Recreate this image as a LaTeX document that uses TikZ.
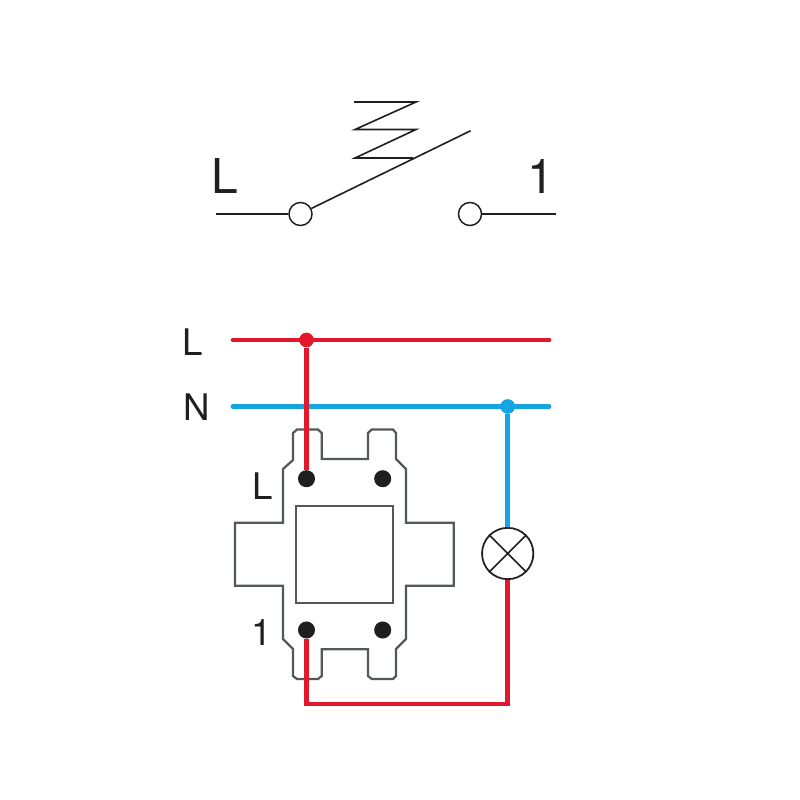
\documentclass[tikz,border=0pt]{standalone}
\usepackage{fontspec}
\setmainfont{TeX Gyre Heros}
\definecolor{wirered}{HTML}{E2192C}
\definecolor{wireblue}{HTML}{16A5E3}
\definecolor{board}{HTML}{55585A}
\definecolor{ink}{HTML}{1F1F21}
\tikzset{
  thinline/.style={draw=ink,line width=1.2pt},
  terminal/.style={circle,draw=ink,fill=white,line width=1.1pt,minimum size=17.3pt,inner sep=0pt},
  lampbulb/.style={circle,draw=ink,fill=white,line width=1.3pt,minimum size=38.5pt,inner sep=0pt},
  dotpin/.style={circle,fill=ink,minimum size=12.8pt,inner sep=0pt},
  junction/.style={circle,minimum size=11pt,inner sep=0pt},
  redwire/.style={draw=wirered,line width=3.7pt},
  bluewire/.style={draw=wireblue,line width=3.7pt},
  boardline/.style={draw=board,line width=1.7pt,line join=miter},
  bigtext/.style={font=\fontsize{36}{36}\selectfont,text=ink,inner sep=0pt},
  smalltext/.style={font=\fontsize{27.5}{28}\selectfont,text=ink,inner sep=0pt},
}
\begin{document}
\begin{tikzpicture}[x=0.75pt,y=-0.75pt]
\useasboundingbox[fill=white] (0,0) rectangle (800,800);
% switch symbol
\node[terminal] (a) at (300.5,214) {};
\node[terminal] (b) at (470,214) {};
\coordinate (lw) at (216,214);
\coordinate (rw) at (556,214);
\coordinate (tip) at (470.7,130.7);
\draw[thinline] (lw) -- (a);
\draw[thinline] (b) -- (rw);
\draw[thinline] (a.27) -- (tip);
\draw[thinline,line join=miter] (354,102) -- (416,102) -- (355,129.5) -- (416,129.5) -- (355,158) -- (413,158);
\node[bigtext] (tL) at (224.5,176) {L};
\node[bigtext] (t1) at (541,176) {1};
% board outline
\draw[boardline]
  (293,460) -- (293,433) -- (297,429.5) -- (318,429.5) -- (321.7,433) -- (321.7,459)
  -- (368,459) -- (368,433) -- (371.7,429.5) -- (393,429.5) -- (396,433) -- (396,459)
  -- (406,469) -- (406,522.7) -- (453.7,522.7) -- (453.7,585.7) -- (406,585.7) -- (406,639)
  -- (396,649) -- (396,676) -- (393,679) -- (371.7,679) -- (368,676) -- (368,649.3)
  -- (321.7,649.3) -- (321.7,676) -- (318,679) -- (297,679) -- (293,676) -- (293,649)
  -- (283,639) -- (283,585.7) -- (235,585.7) -- (235,522.7) -- (283,522.7) -- (283,469) -- cycle;
\draw[boardline] (295.7,506) rectangle (393.3,602.7);
% wiring
\coordinate (Ls) at (233,340);
\coordinate (Le) at (549,340);
\coordinate (Ns) at (233,406.5);
\coordinate (Ne) at (549,406.5);
\node[junction,fill=wirered] (jL) at (306.5,340) {};
\node[junction,fill=wireblue] (jN) at (507.7,406.5) {};
\node[lampbulb] (lamp) at (507.7,553.5) {};
\draw[thinline] (lamp.45) -- (lamp.225) (lamp.135) -- (lamp.315);
\node[dotpin] (p1) at (306.5,478.7) {};
\node[dotpin] (p2) at (382.7,478.7) {};
\node[dotpin] (p3) at (306.5,630) {};
\node[dotpin] (p4) at (382.7,630) {};
\draw[bluewire,line cap=round] (Ns) -- (Ne);
\draw[redwire,line cap=round] (Ls) -- (Le);
\draw[bluewire] (jN) -- (lamp);
\draw[redwire] (jL) -- (p1);
\draw[redwire,line join=miter] (p3.south) -- (306.5,704) -- (507.7,704) -- (lamp);
\node[smalltext] (lblL) at (193,342) {L};
\node[smalltext] (lblN) at (196.5,407) {N};
\node[smalltext] (lblL2) at (263,486) {L};
\node[smalltext] (lbl1) at (262,632) {1};
\end{tikzpicture}
\end{document}
